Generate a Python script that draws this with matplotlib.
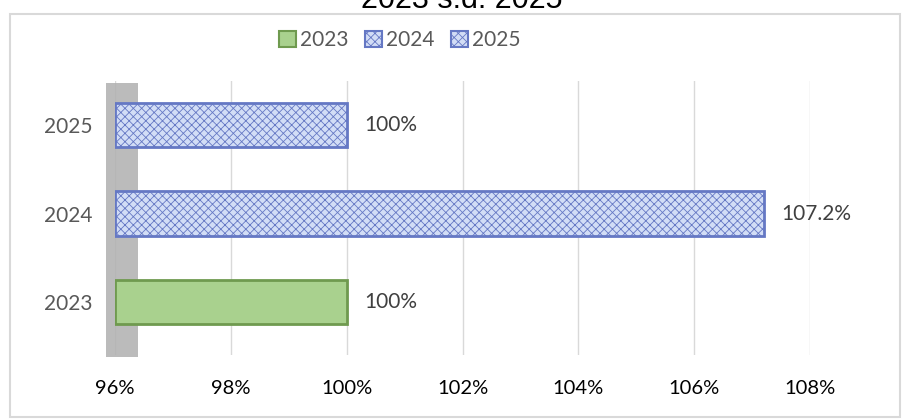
import matplotlib
matplotlib.use("Agg")
import matplotlib.pyplot as plt
from matplotlib.patches import Rectangle, Patch

categories = ["2023", "2024", "2025"]
values = [100.0, 107.2, 100.0]
value_labels = ["100%", "107.2%", "100%"]
xticks = [96, 98, 100, 102, 104, 106, 108]
xtick_labels = ["96%", "98%", "100%", "102%", "104%", "106%", "108%"]
title = "2023 s.d. 2025"

plt.rcParams['font.family'] = ['Lato', 'DejaVu Sans']
plt.rcParams['hatch.linewidth'] = 0.6

fig = plt.figure(figsize=(9.02, 4.19), dpi=100)
W, H = 902, 419
ax = fig.add_axes([115 / W, 1 - 355 / H, 695 / W, 274 / H])

styles = [
    dict(facecolor="#a9d18e", edgecolor="#6f9a4f", hatch=None),
    dict(facecolor="#d2ddf6", edgecolor="#6578c4", hatch="xxxx"),
    dict(facecolor="#d2ddf6", edgecolor="#6578c4", hatch="xxxx"),
]
base = 96
for i, (v, st) in enumerate(zip(values, styles)):
    ax.barh(i, v - base, left=base, height=0.5, color=st["facecolor"],
            edgecolor=st["edgecolor"], hatch=st["hatch"], linewidth=2, zorder=3)
    ax.text(v + 0.3, i, value_labels[i], va="center", ha="left",
            fontsize=15, color="#404040", zorder=4)

# decorative grey wall on the left
ax.add_patch(Rectangle((95.85, -0.62), 0.55, 3.1, facecolor="#b0b0b0",
                       edgecolor="none", alpha=0.85, zorder=2, clip_on=False))

ax.set_xlim(96, 108)
ax.set_ylim(-0.6, 2.5)
ax.set_xticks(xticks)
ax.set_xticklabels(xtick_labels, fontsize=14.5, color="#000000")
ax.set_yticks(range(len(categories)))
ax.set_yticklabels(categories, fontsize=15, color="#595959")
ax.tick_params(axis="x", length=0, pad=18)
ax.tick_params(axis="y", length=0, pad=16)
ax.grid(axis="x", color="#d9d9d9", linewidth=1, zorder=0)
for s in ax.spines.values():
    s.set_visible(False)

handles = [Patch(facecolor=st["facecolor"], edgecolor=st["edgecolor"],
                 hatch=st["hatch"], linewidth=1.5) for st in styles]
fig.legend(handles, categories, loc="center", bbox_to_anchor=(400 / W, 1 - 40 / H),
           ncol=3, frameon=False, fontsize=15, handlelength=0.8, handleheight=0.8,
           handletextpad=0.2, columnspacing=0.8, labelcolor="#595959")

fig.text(462 / W, 1 - 8 / H, title, ha="center", va="baseline", fontsize=22,
         color="#000000", family=["Liberation Sans", "DejaVu Sans"])

fig.add_artist(Rectangle((10 / W, 2 / H), 890 / W, (H - 16) / H, transform=fig.transFigure,
                         facecolor="none", edgecolor="#d9d9d9", linewidth=1.5))

fig.savefig("out.png", dpi=100)
